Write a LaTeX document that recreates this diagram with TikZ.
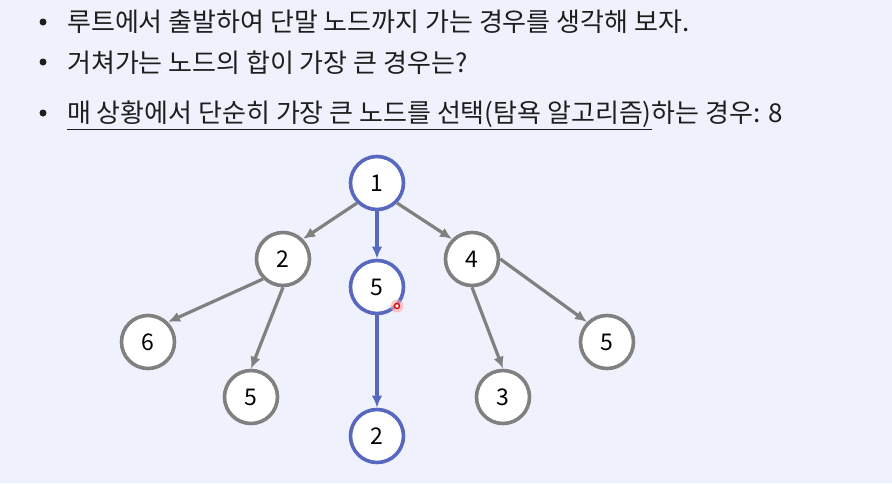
\documentclass[tikz,border=0pt]{standalone}
\usepackage{fontspec}
\setmainfont{Noto Sans CJK KR}
\usetikzlibrary{arrows.meta}
\definecolor{bg}{HTML}{EFF2FC}
\definecolor{nblue}{HTML}{5868BE}
\definecolor{ngray}{HTML}{808080}
\definecolor{txt}{HTML}{1E1E1E}
\begin{document}
\begin{tikzpicture}[x=1pt,y=-1pt,
  tnode/.style={circle, minimum size=53pt, inner sep=0pt, line width=3.6pt, fill=white, font=\fontsize{23}{27}\selectfont, text=black},
  gnode/.style={tnode, draw=ngray},
  bnode/.style={tnode, draw=nblue},
  gedge/.style={draw=ngray, line width=3.2pt, -{Latex[length=12pt,width=10.5pt]}},
  bedge/.style={gedge, draw=nblue},
  txtline/.style={anchor=base west, font=\fontsize{26}{31}\selectfont, text=txt, inner sep=0pt},
  bulletdot/.style={circle, fill=txt, minimum size=7pt, inner sep=0pt}
]
\fill[bg] (0,0) rectangle (892,483);
\useasboundingbox (0,0) rectangle (892,483);

\node[bulletdot] (b1) at (43,22) {};
\node[bulletdot] (b2) at (43,62) {};
\node[bulletdot] (b3) at (43,113) {};
\node[txtline] (t1) at (67,31.5) {루트에서 출발하여 단말 노드까지 가는 경우를 생각해 보자.};
\node[txtline] (t2) at (67,72.5) {거쳐가는 노드의 합이 가장 큰 경우는?};
\node[txtline] (t3) at (67,122.5) {\underline{매 상황에서 단순히 가장 큰 노드를 선택(탐욕 알고리즘)}하는 경우: 8};

\node[bnode] (n1) at (377,183) {1};
\node[gnode] (n2) at (283,259) {2};
\node[bnode] (n5m) at (377,287) {5};
\node[gnode] (n4) at (472,259) {4};
\node[gnode] (n6) at (148,342) {6};
\node[gnode] (n5l) at (251,397) {5};
\node[bnode] (n2b) at (377,436) {2};
\node[gnode] (n3) at (503,397) {3};
\node[gnode] (n5r) at (607,342) {5};

\draw[gedge] (n1.-135) -- (n2.45);
\draw[bedge] (n1.south) -- (n5m.north);
\draw[gedge] (n1.-45) -- (n4.135);
\draw[gedge] (n2.-135) -- (n6.45);
\draw[gedge] (n2.south) -- (n5l.north);
\draw[bedge] (n5m.south) -- (n2b.north);
\draw[gedge] (n4.south) -- (n3.north);
\draw[gedge] (n4.east) -- (n5r.135);

\fill[red!35, opacity=0.6] (397,306) circle (6.5pt);
\node[circle, draw=red!85!black, fill=white, line width=1.3pt, minimum size=5pt, inner sep=0pt] (cursor) at (397,306) {};
\end{tikzpicture}
\end{document}
